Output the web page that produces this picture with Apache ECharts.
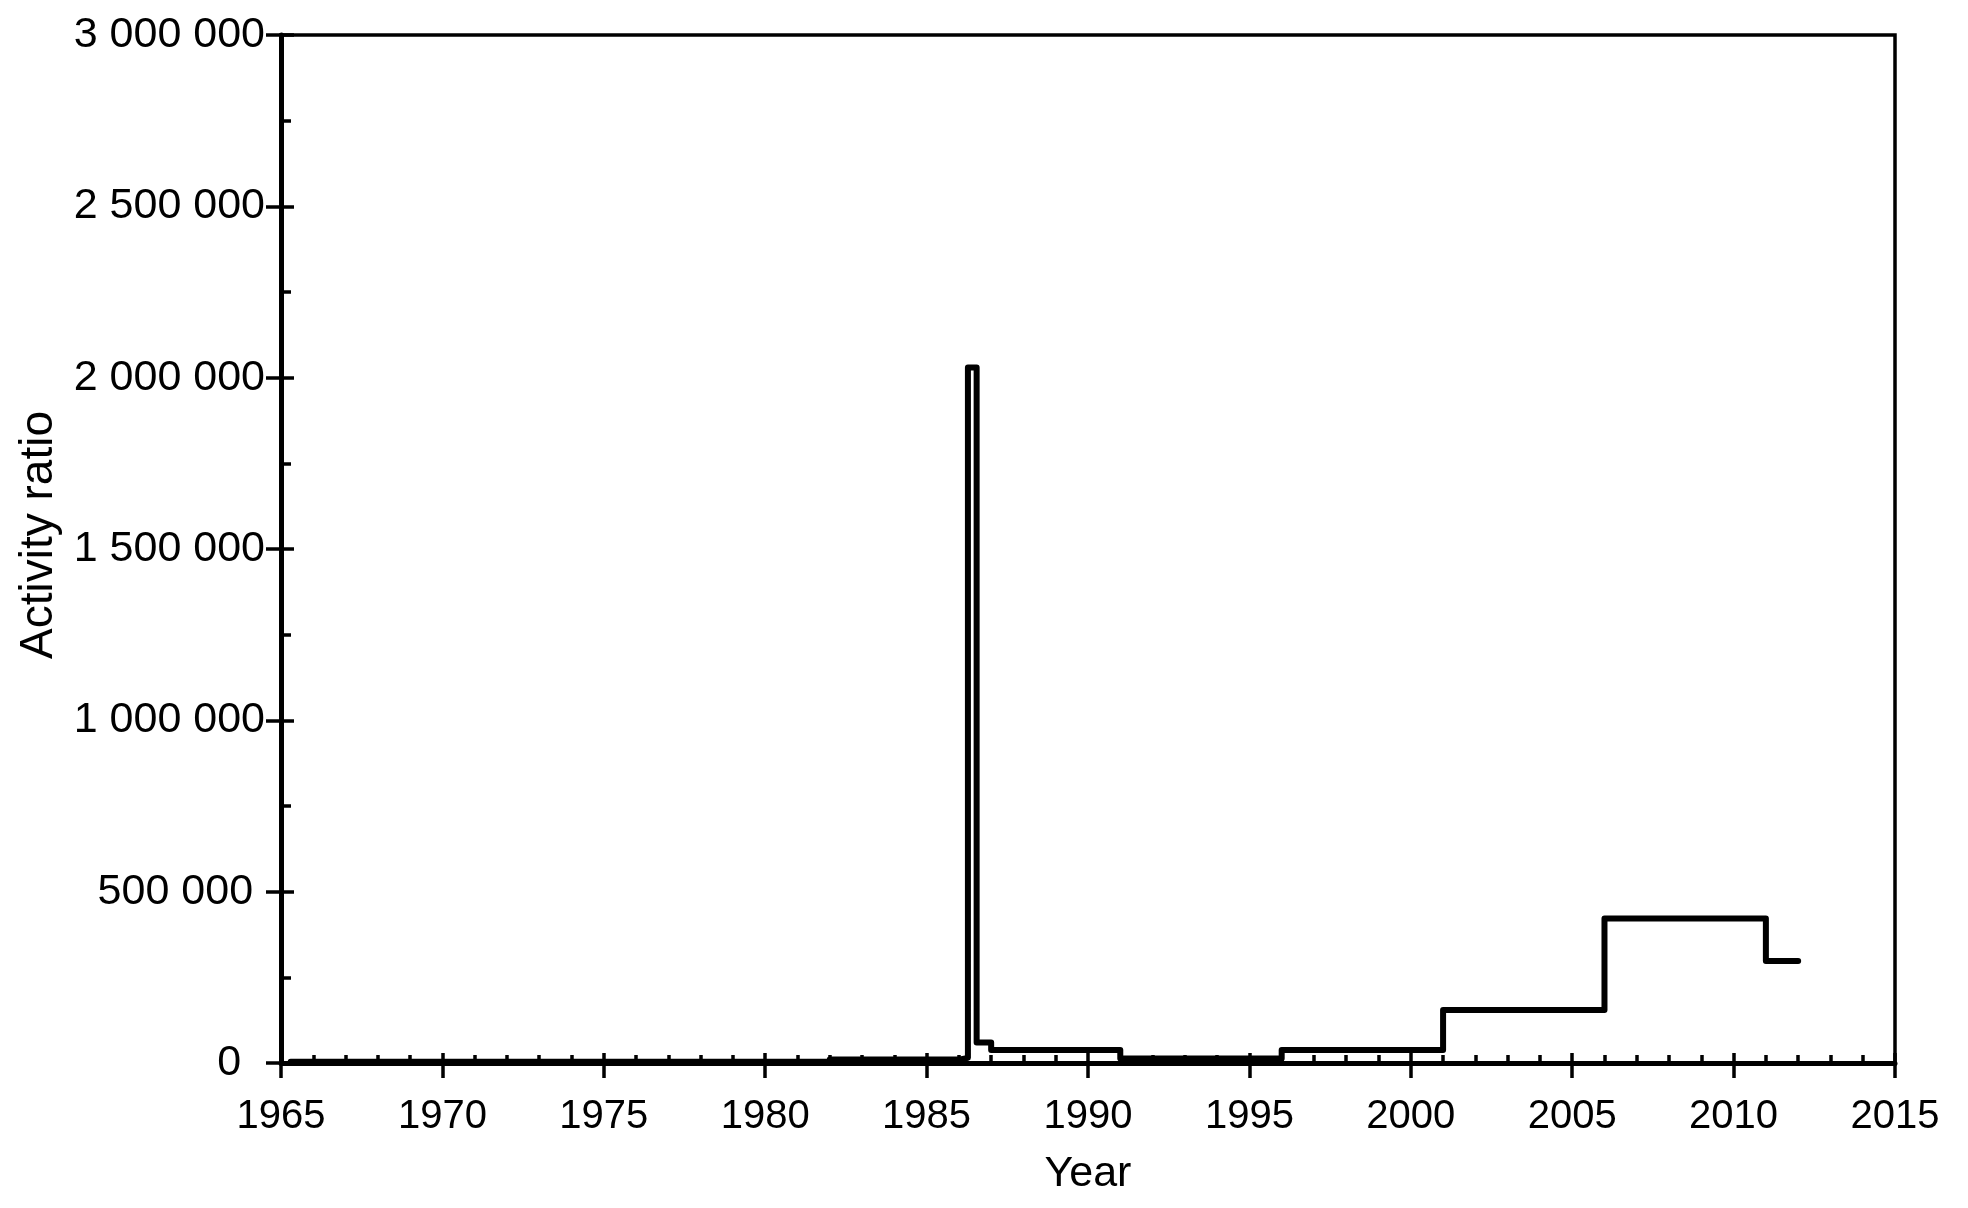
<!DOCTYPE html>
<html>
<head>
<meta charset="utf-8">
<script src="https://cdn.jsdelivr.net/npm/echarts@6/dist/echarts.min.js"></script>
<style>
html,body{margin:0;padding:0;background:#fff;}
#chart{width:1968px;height:1208px;}
</style>
</head>
<body>
<div id="chart"></div>
<script>
// Step boundaries (years) and the value held from each start until the next boundary
const stepStarts = [1965.3, 1982, 1986.0, 1986.28, 1986.55, 1987, 1991, 1996, 2001, 2006, 2011];
const stepEndYear = 2012;
const stepValues = [4000, 10000, 15000, 2030000, 60000, 38000, 13000, 38000, 155000, 422000, 298000];

const xTicks = { min: 1965, max: 2015, interval: 5 };
const yTicks = { min: 0, max: 3000000, interval: 500000 };

const xName = 'Year';
const yName = 'Activity ratio';

const data = stepStarts.map((x, i) => [x, stepValues[i]]);
data.push([stepEndYear, stepValues[stepValues.length - 1]]);

function fmtSpace(v) {
  const s = String(Math.round(v)).replace(/\B(?=(\d{3})+(?!\d))/g, ' ');
  const groups = (s.match(/ /g) || []).length;
  return s + '\u00a0'.repeat(Math.max(0, 2 - groups));
}

const font = '"Liberation Sans", Arial, sans-serif';
const chart = echarts.init(document.getElementById('chart'), null, { renderer: 'canvas' });

chart.setOption({
  animation: false,
  backgroundColor: '#fff',
  grid: {
    left: 281, right: 73, top: 35, bottom: 145,
    show: true, borderColor: '#000', borderWidth: 3.5, backgroundColor: 'transparent'
  },
  xAxis: [
    {
      type: 'value', min: xTicks.min, max: xTicks.max, interval: xTicks.interval,
      name: xName, nameLocation: 'middle', nameGap: 90,
      nameTextStyle: { fontFamily: font, fontSize: 43, color: '#000' },
      axisLine: { show: true, onZero: false, lineStyle: { color: '#000', width: 5 } },
      axisTick: { show: true, inside: false, length: 15, lineStyle: { color: '#000', width: 3.5 } },
      minorTick: { show: false },
      axisLabel: { show: true, margin: 34, fontFamily: font, fontSize: 40, color: '#000', formatter: v => String(v) },
      splitLine: { show: false }
    },
    {
      type: 'value', position: 'bottom', min: xTicks.min, max: xTicks.max, interval: xTicks.interval,
      axisLine: { show: false, onZero: false },
      axisTick: { show: true, inside: true, length: 10, lineStyle: { color: '#000', width: 3.5 } },
      minorTick: { show: true, splitNumber: 5, length: 8, lineStyle: { color: '#000', width: 3.5 } },
      axisLabel: { show: false },
      splitLine: { show: false }
    }
  ],
  yAxis: [
    {
      type: 'value', min: yTicks.min, max: yTicks.max, interval: yTicks.interval,
      name: yName, nameLocation: 'middle', nameGap: 217, nameRotate: 90,
      nameTextStyle: { fontFamily: font, fontSize: 46, color: '#000', padding: [0, 0, 0, 28] },
      axisLine: { show: true, onZero: false, lineStyle: { color: '#000', width: 5 } },
      axisTick: { show: true, inside: false, length: 15, lineStyle: { color: '#000', width: 3.5 } },
      minorTick: { show: false },
      axisLabel: { show: true, margin: 16, fontFamily: font, fontSize: 43, color: '#000', formatter: fmtSpace },
      splitLine: { show: false }
    },
    {
      type: 'value', position: 'left', min: yTicks.min, max: yTicks.max, interval: yTicks.interval,
      axisLine: { show: false, onZero: false },
      axisTick: { show: true, inside: true, length: 13, lineStyle: { color: '#000', width: 3.5 } },
      minorTick: { show: true, splitNumber: 2, length: 10, lineStyle: { color: '#000', width: 3.5 } },
      axisLabel: { show: false },
      splitLine: { show: false }
    }
  ],
  series: [
    {
      type: 'line', xAxisIndex: 0, yAxisIndex: 0, step: 'end',
      showSymbol: false, symbol: 'none',
      lineStyle: { color: '#000', width: 6, join: 'round', cap: 'round' },
      data: data, z: 5
    }
  ]
});
</script>
</body>
</html>
